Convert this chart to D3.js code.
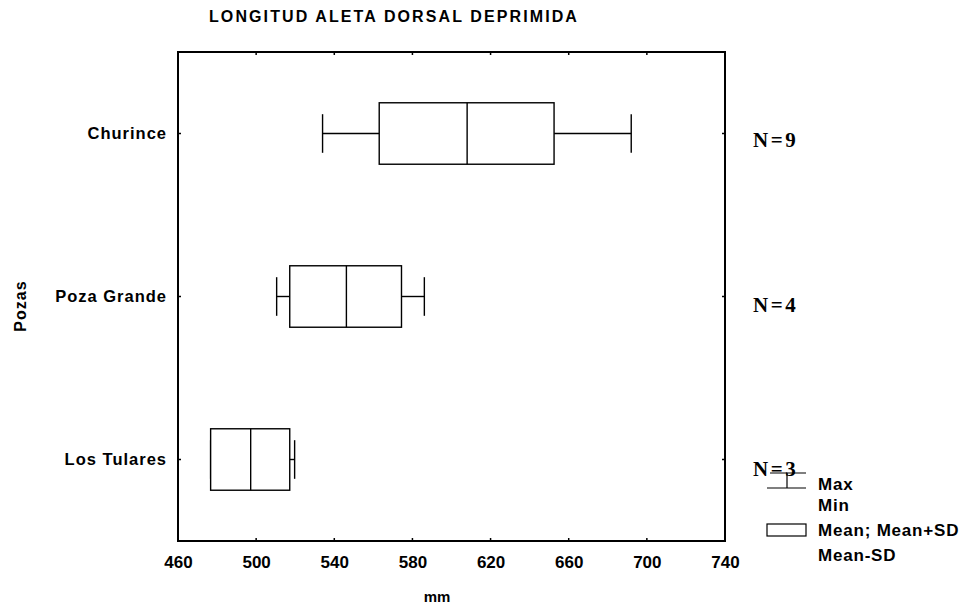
<!DOCTYPE html>
<html><head><meta charset="utf-8">
<script src="https://cdn.jsdelivr.net/npm/d3@7"></script>
<style>body{margin:0;background:#fff}svg{display:block}</style>
</head><body>
<script>
const categories = ["Churince", "Poza Grande", "Los Tulares"];
const nCounts = [9, 4, 3];
const minVals = [534, 510.5, 476.7];
const meanMinusSD = [563, 517.2, 476.7];
const means = [608, 546.2, 497.2];
const meanPlusSD = [652.5, 574.4, 517.2];
const maxVals = [692, 586.1, 519.7];
const xTicks = [460, 500, 540, 580, 620, 660, 700, 740];

const W = 969, H = 608;
const m = {l: 178, r: 725, t: 52, b: 541};
const svg = d3.select("body").append("svg").attr("width", W).attr("height", H);
const x = d3.scaleLinear().domain([460, 740]).range([m.l, m.r]);
const y = d3.scaleBand().domain(categories).range([m.t, m.b]).padding(0);
const bw = y.bandwidth();
const boxH = bw * 0.377, capH = bw * 0.237;
const font = "'Liberation Sans', Arial, sans-serif";

// title
svg.append("text").attr("x", 394).attr("y", 22).attr("text-anchor", "middle")
  .attr("font-family", font).attr("font-weight", "bold").attr("font-size", 16)
  .attr("letter-spacing", 2.1).text("LONGITUD ALETA DORSAL DEPRIMIDA");

// axes
const xb = d3.axisBottom(x).tickValues(xTicks).tickSize(0).tickPadding(0);
const gx = svg.append("g").attr("transform", `translate(0,${m.b})`).call(xb);
gx.select(".domain").remove();
gx.selectAll("text").attr("y", 27).attr("dy", 0).attr("font-family", font)
  .attr("font-weight", "bold").attr("font-size", 17).attr("fill", "#000");
// inward tick marks
svg.append("g").selectAll("line").data(xTicks.slice(1, -1)).join("line")
  .attr("x1", d => x(d)).attr("x2", d => x(d)).attr("y1", m.b).attr("y2", m.b - 3)
  .attr("stroke", "#000").attr("stroke-width", 1.5);
svg.append("g").selectAll("line").data(xTicks.slice(1, -1)).join("line")
  .attr("x1", d => x(d)).attr("x2", d => x(d)).attr("y1", m.t).attr("y2", m.t + 3)
  .attr("stroke", "#000").attr("stroke-width", 1.5);

const yl = d3.axisLeft(y).tickSize(0).tickPadding(11);
const gy = svg.append("g").attr("transform", `translate(${m.l},0)`).call(yl);
gy.select(".domain").remove();
gy.selectAll("text").attr("font-family", font).attr("font-weight", "bold")
  .attr("font-size", 16.5).attr("letter-spacing", 1).attr("fill", "#000");
svg.append("g").selectAll("line").data(categories).join("line")
  .attr("x1", m.l).attr("x2", m.l + 3).attr("y1", d => y(d) + bw / 2).attr("y2", d => y(d) + bw / 2)
  .attr("stroke", "#000").attr("stroke-width", 1.5);
svg.append("g").selectAll("line").data(categories).join("line")
  .attr("x1", m.r).attr("x2", m.r - 3).attr("y1", d => y(d) + bw / 2).attr("y2", d => y(d) + bw / 2)
  .attr("stroke", "#000").attr("stroke-width", 1.5);

// frame
svg.append("rect").attr("x", m.l).attr("y", m.t).attr("width", m.r - m.l).attr("height", m.b - m.t)
  .attr("fill", "none").attr("stroke", "#000").attr("stroke-width", 2);

// axis titles
svg.append("text").attr("x", 437).attr("y", 602).attr("text-anchor", "middle")
  .attr("font-family", font).attr("font-weight", "bold").attr("font-size", 15).text("mm");
svg.append("text").attr("transform", "translate(26,306) rotate(-90)").attr("text-anchor", "middle")
  .attr("font-family", font).attr("font-weight", "bold").attr("font-size", 16).attr("letter-spacing", 1).text("Pozas");

// boxes
const g = svg.append("g").attr("stroke", "#000").attr("stroke-width", 1.4).attr("fill", "none");
categories.forEach((c, i) => {
  const cy = y(c) + bw / 2;
  g.append("line").attr("x1", x(minVals[i])).attr("x2", x(meanMinusSD[i])).attr("y1", cy).attr("y2", cy);
  g.append("line").attr("x1", x(meanPlusSD[i])).attr("x2", x(maxVals[i])).attr("y1", cy).attr("y2", cy);
  g.append("line").attr("x1", x(minVals[i])).attr("x2", x(minVals[i])).attr("y1", cy - capH / 2).attr("y2", cy + capH / 2);
  g.append("line").attr("x1", x(maxVals[i])).attr("x2", x(maxVals[i])).attr("y1", cy - capH / 2).attr("y2", cy + capH / 2);
  g.append("rect").attr("x", x(meanMinusSD[i])).attr("y", cy - boxH / 2)
    .attr("width", x(meanPlusSD[i]) - x(meanMinusSD[i])).attr("height", boxH).attr("fill", "#fff");
  g.append("line").attr("x1", x(means[i])).attr("x2", x(means[i])).attr("y1", cy - boxH / 2).attr("y2", cy + boxH / 2);
});

// N labels
const nY = [140, 305, 469];
svg.append("g").selectAll("text").data(nCounts).join("text")
  .attr("x", 753).attr("y", (d, i) => nY[i] + 7)
  .attr("font-family", "'Liberation Serif', 'Times New Roman', serif").attr("font-weight", "bold")
  .attr("font-size", 21).attr("letter-spacing", 2.5).text(d => "N=" + d);

// legend
const lg = svg.append("g");
lg.append("line").attr("x1", 770).attr("x2", 806).attr("y1", 473).attr("y2", 473).attr("stroke", "#000").attr("stroke-width", 1.2);
lg.append("line").attr("x1", 767).attr("x2", 806).attr("y1", 488).attr("y2", 488).attr("stroke", "#000").attr("stroke-width", 1.2);
lg.append("line").attr("x1", 787).attr("x2", 787).attr("y1", 473).attr("y2", 488).attr("stroke", "#000").attr("stroke-width", 1.2);
lg.append("rect").attr("x", 767).attr("y", 524).attr("width", 39).attr("height", 12)
  .attr("fill", "#fff").attr("stroke", "#000").attr("stroke-width", 1.2);
const legTexts = [["Max", 484], ["Min", 505], ["Mean; Mean+SD", 530], ["Mean-SD", 555]];
lg.selectAll("text.l").data(legTexts).join("text").attr("class", "l")
  .attr("x", 818).attr("y", d => d[1] + 6)
  .attr("font-family", font).attr("font-weight", "bold").attr("font-size", 17).attr("letter-spacing", 0.8)
  .text(d => d[0]);
</script>
</body></html>
